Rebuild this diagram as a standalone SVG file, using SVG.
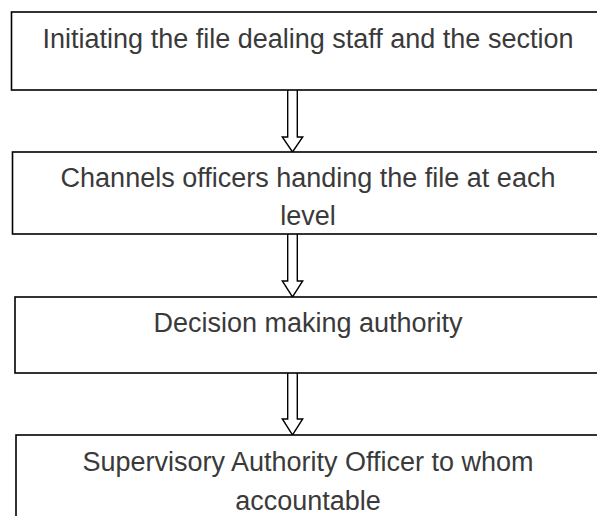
<svg xmlns="http://www.w3.org/2000/svg" width="597" height="516" viewBox="0 0 597 516">
<style>
.box{fill:#fff;stroke:#000;stroke-width:1.6}
.lbl{font-family:"Liberation Sans",Arial,sans-serif;font-size:27px;fill:#3a3a3a;text-anchor:middle}
.arr{fill:#fff;stroke:#000;stroke-width:1.4;stroke-linejoin:miter}
</style>
<rect width="597" height="516" fill="#fff"/>
<g id="connectors">
<path class="arr" d="M287.7,90 V137 H282.3 L292.5,152 L302.7,137 H297.3 V90"/>
<path class="arr" d="M287.7,234 V281 H282.3 L292.5,297 L302.7,281 H297.3 V234"/>
<path class="arr" d="M287.7,373 V419 H282.3 L292.5,435 L302.7,419 H297.3 V373"/>
</g>
<g id="node1">
<rect class="box" x="11.5" y="12" width="600" height="78"/>
<text class="lbl" x="308" y="47.7">Initiating the file dealing staff and the section</text>
</g>
<g id="node2">
<rect class="box" x="12.5" y="152" width="600" height="82"/>
<text class="lbl" x="308" y="186.7">Channels officers handing the file at each</text>
<text class="lbl" x="308" y="225">level</text>
</g>
<g id="node3">
<rect class="box" x="15" y="297" width="600" height="76"/>
<text class="lbl" x="308" y="332">Decision making authority</text>
</g>
<g id="node4">
<rect class="box" x="16" y="435" width="600" height="90"/>
<text class="lbl" x="308" y="471">Supervisory Authority Officer to whom</text>
<text class="lbl" x="308" y="509.5">accountable</text>
</g>
</svg>
